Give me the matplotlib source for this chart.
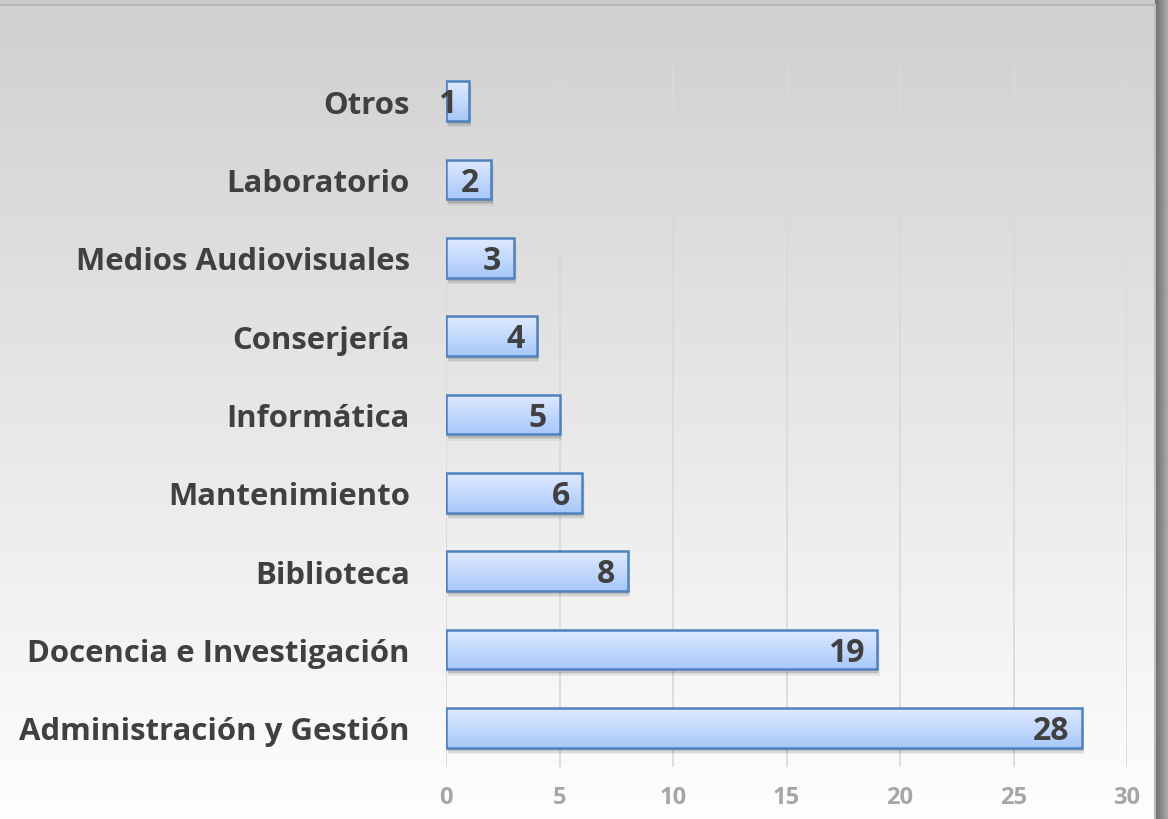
import matplotlib.pyplot as plt
import numpy as np
from matplotlib.colors import LinearSegmentedColormap
from matplotlib.patches import Rectangle

# Data
categories = ['Administración y Gestión', 'Docencia e Investigación', 'Biblioteca',
              'Mantenimiento', 'Informática', 'Conserjería', 'Medios Audiovisuales',
              'Laboratorio', 'Otros']
values = [28, 19, 8, 6, 5, 4, 3, 2, 1]
xticks = [0, 5, 10, 15, 20, 25, 30]

plt.rcParams['font.family'] = ['Open Sans', 'DejaVu Sans']

W, H = 1168, 820
fig = plt.figure(figsize=(W / 100, H / 100), dpi=100)

# Page background with drop shadow on the right and top edge
bg = fig.add_axes([0, 0, 1, 1])
bg.set_xlim(0, W)
bg.set_ylim(H, 0)
bg.axis('off')
bg.add_patch(Rectangle((0, 0), W, H, color='#c9c9c9', zorder=0))
shade = np.linspace(0, 1, 12).reshape(1, -1)
bg.imshow(shade, extent=(1155, W, H, 0), cmap=LinearSegmentedColormap.from_list('s', ['#6e6e6e', '#a8a8a8']),
          aspect='auto', zorder=1)
panel = np.linspace(0, 1, 256).reshape(-1, 1)
bg.imshow(panel, extent=(0, 1155, H, 6), cmap=LinearSegmentedColormap.from_list('p', ['#d0d0d0', '#fefefe']),
          aspect='auto', zorder=1)
bg.plot([0, 1155], [6, 6], color='#b8b8b8', lw=1.5, zorder=2)
bg.plot([1155, 1155], [6, H], color='#bdbdbd', lw=1.5, zorder=2)

# Chart area
ax = fig.add_axes([446 / W, 52 / H, 681 / W, 705 / H])
ax.patch.set_alpha(0)
ypos = np.arange(len(categories))
h = 0.51

bar_cmap = LinearSegmentedColormap.from_list('bar', ['#a8c8fa', '#dfeaff'])
grad = np.linspace(0, 1, 64).reshape(-1, 1)
for y, v in zip(ypos, values):
    # soft shadow below each bar
    for k, a in enumerate([0.10, 0.08, 0.05]):
        ax.add_patch(Rectangle((0.05 + 0.03 * k, y - h / 2 - 0.04 - 0.02 * k), v, h,
                               facecolor='#000000', alpha=a, lw=0, zorder=2))
    ax.imshow(grad, extent=(0, v, y - h / 2, y + h / 2), cmap=bar_cmap, origin='lower',
              aspect='auto', zorder=3)
ax.barh(ypos, values, height=h, facecolor='none', edgecolor='#4f81bd', linewidth=1.8, zorder=4)

for y, v in zip(ypos, values):
    ax.annotate(str(v), (v, y), xytext=(-9, -2), textcoords='offset points', ha='right', va='center',
                fontsize=23, fontweight='bold', color='#404040', zorder=5)

ax.set_xlim(0, 30)
ax.set_ylim(-0.5, 8.5)
ax.set_xticks(xticks)
ax.set_yticks(ypos)
ax.set_yticklabels(categories)
ax.grid(axis='x', color='#d9d9d9', linewidth=1.2, zorder=1)
ax.set_axisbelow(True)
for s in ax.spines.values():
    s.set_visible(False)
ax.tick_params(axis='x', length=0, pad=13, labelsize=17, labelcolor='#a6a6a6')
ax.tick_params(axis='y', length=0, pad=26, labelsize=22.4, labelcolor='#404040')
for t in ax.get_xticklabels():
    t.set_fontweight('bold')
for t in ax.get_yticklabels():
    t.set_fontweight('bold')

fig.savefig('out.png', dpi=100)
